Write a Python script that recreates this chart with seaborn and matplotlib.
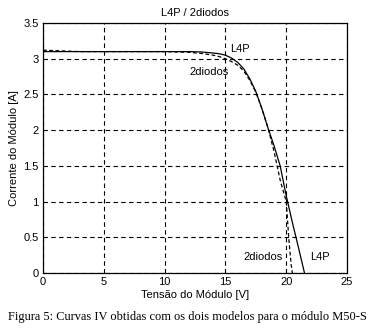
import pandas as pd
import matplotlib
matplotlib.use("Agg")
import matplotlib.pyplot as plt
import seaborn as sns

# L4P model (solid)
v_l4p = [0, 5, 10, 12, 13, 14, 14.5, 15, 15.5, 16, 16.5, 17, 17.5, 18, 18.5, 19, 19.5, 20, 20.5, 21, 21.5]
i_l4p = [3.1, 3.1, 3.1, 3.1, 3.095, 3.08, 3.07, 3.05, 3.01, 2.95, 2.86, 2.72, 2.54, 2.3, 2.03, 1.78, 1.5, 1.08, 0.71, 0.36, 0.0]

# 2 diodes model (dashed)
v_2d = [0, 3, 10, 12, 13, 14, 14.5, 15, 15.5, 16, 16.5, 17, 17.5, 18, 18.5, 19, 19.25, 19.5, 19.75, 20, 20.2, 20.4, 20.5]
i_2d = [3.12, 3.1, 3.1, 3.09, 3.075, 3.05, 3.03, 3.0, 2.96, 2.91, 2.83, 2.7, 2.53, 2.3, 2.03, 1.7, 1.5, 1.3, 1.15, 1.0, 0.5, 0.12, 0.0]

xticks = [0, 5, 10, 15, 20, 25]
yticks = [0, 0.5, 1, 1.5, 2, 2.5, 3, 3.5]
ytick_labels = ["0", "0.5", "1", "1.5", "2", "2.5", "3", "3.5"]

df = pd.concat([
    pd.DataFrame({"V": v_l4p, "I": i_l4p, "modelo": "L4P"}),
    pd.DataFrame({"V": v_2d, "I": i_2d, "modelo": "2diodos"}),
])

sns.set_style("white")
plt.rcParams['font.family'] = ['Liberation Sans', 'DejaVu Sans']
for k in ["text.color", "axes.labelcolor", "xtick.color", "ytick.color"]:
    plt.rcParams[k] = "black"

fig = plt.figure(figsize=(3.74, 3.29), dpi=100)
ax = fig.add_axes([0.115, 0.170, 0.813, 0.760])

sns.lineplot(data=df, x="V", y="I", style="modelo", sort=False,
             dashes={"L4P": "", "2diodos": (3, 2)}, color="black",
             linewidth=0.9, legend=False, ax=ax, estimator=None)

ax.set_xlim(0, 25)
ax.set_ylim(0, 3.5)
ax.set_xticks(xticks)
ax.set_yticks(yticks)
ax.set_yticklabels(ytick_labels)
ax.tick_params(labelsize=8, length=0, pad=3)
ax.grid(True, color="black", linestyle=(0, (4, 3)), linewidth=0.8)
for s in ax.spines.values():
    s.set_color("black")
    s.set_linewidth(0.9)

ax.set_title("L4P / 2diodos", fontsize=8, pad=5)
ax.set_xlabel("Tensão do Módulo [V]", fontsize=8, labelpad=2)
ax.set_ylabel("Corrente do Módulo [A]", fontsize=8, labelpad=3)

ax.text(15.4, 3.13, "L4P", fontsize=8, va="center", ha="left")
ax.text(12.0, 2.81, "2diodos", fontsize=8, va="center", ha="left")
ax.text(16.5, 0.22, "2diodos", fontsize=8, va="center", ha="left")
ax.text(22.0, 0.22, "L4P", fontsize=8, va="center", ha="left")

fig.text(0.5, 0.035, "Figura 5: Curvas IV obtidas com os dois modelos para o módulo M50-S",
         family="Liberation Serif", fontsize=8.9, ha="center", va="center")

fig.savefig("out.png", dpi=100)
